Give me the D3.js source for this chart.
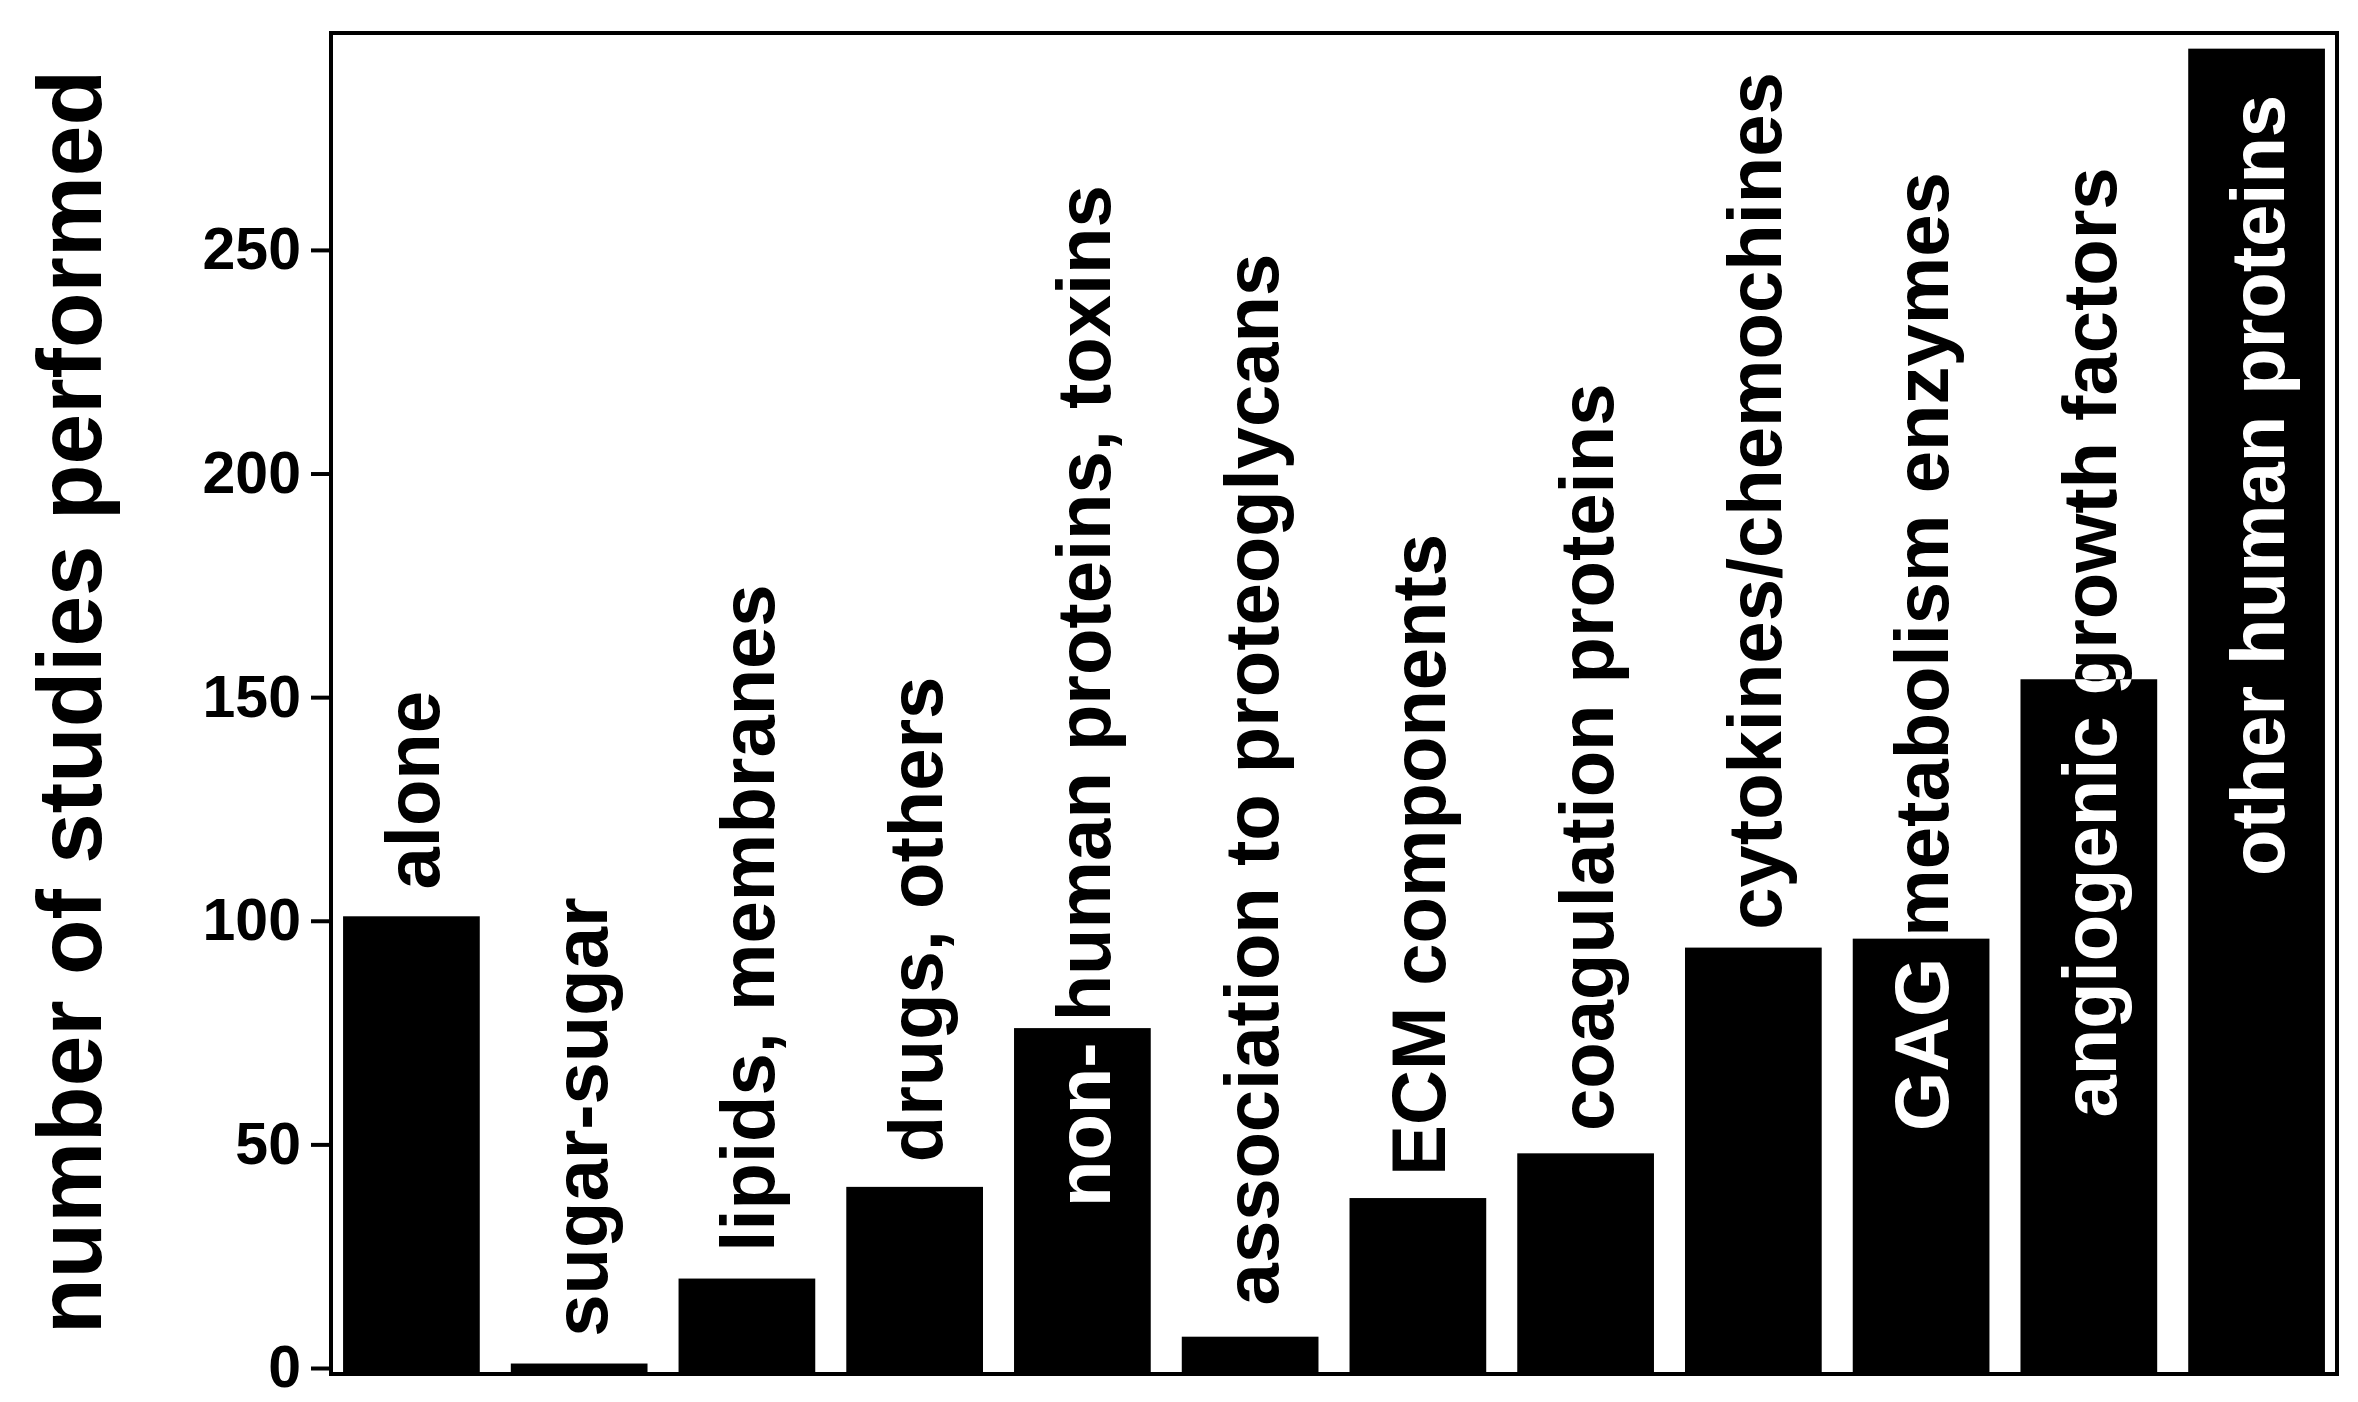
<!DOCTYPE html>
<html><head><meta charset="utf-8">
<script src="https://cdn.jsdelivr.net/npm/d3@7"></script>
<style>body{margin:0;background:#fff}</style>
</head><body>
<svg id="chart" width="2358" height="1402"></svg>
<script>
// categories and values
var categories = ["alone", "sugar-sugar", "lipids, membranes", "drugs, others",
  "non- human proteins, toxins", "association to proteoglycans", "ECM components",
  "coagulation proteins", "cytokines/chemochines", "GAG metabolism enzymes",
  "angiogenic growth factors", "other human proteins"];
var values = [101, 1, 20, 40.5, 76, 7, 38, 48, 94, 96, 154, 295];
// where each label begins, in value units
var labelStart = [107, 7, 26, 46, 36, 14, 43, 53, 98, 53, 56, 110];
var tickValues = [0, 50, 100, 150, 200, 250];

var svg = d3.select("#chart");
var frameL = 331, frameR = 2337, frameT = 33, frameB = 1374;
var font = "'Liberation Sans', Arial, sans-serif";

var x = d3.scaleBand().domain(categories).range([frameL + 2, frameR - 2]).paddingInner(0.185).paddingOuter(0.06);
var y = d3.scaleLinear().domain([0, 298.5]).range([1368, frameT]);

// bars
svg.selectAll("rect.bar").data(categories).enter().append("rect")
  .attr("class", "bar")
  .attr("x", d => x(d)).attr("width", x.bandwidth())
  .attr("y", (d, i) => y(values[i])).attr("height", (d, i) => frameB - y(values[i]))
  .attr("fill", "#000");

// clip path of the bars for white text
var clip = svg.append("clipPath").attr("id", "barclip");
clip.selectAll("rect").data(categories).enter().append("rect")
  .attr("x", d => x(d)).attr("width", x.bandwidth())
  .attr("y", (d, i) => y(values[i])).attr("height", (d, i) => frameB - y(values[i]));

function labels(g, color) {
  g.selectAll("text").data(categories).enter().append("text")
    .attr("transform", (d, i) => "translate(" + (x(d) + x.bandwidth() / 2) + "," + y(labelStart[i]) + ") rotate(-90)")
    .attr("dy", "0.36em")
    .attr("font-family", font).attr("font-weight", "bold").attr("font-size", 76)
    .attr("fill", color)
    .text(d => d);
}
labels(svg.append("g"), "#000");
labels(svg.append("g").attr("clip-path", "url(#barclip)"), "#fff");

// frame
svg.append("rect").attr("x", frameL).attr("y", frameT).attr("width", frameR - frameL).attr("height", frameB - frameT)
  .attr("fill", "none").attr("stroke", "#000").attr("stroke-width", 4);

// y axis
var axis = svg.append("g").attr("transform", "translate(" + frameL + ",0)")
  .call(d3.axisLeft(y).tickValues(tickValues).tickSize(20).tickPadding(10));
axis.select(".domain").remove();
axis.selectAll("line").attr("stroke-width", 4);
axis.selectAll("text").attr("font-family", font).attr("font-weight", "bold").attr("font-size", 59).attr("fill", "#000");

svg.append("text")
  .attr("transform", "translate(68,702) rotate(-90)")
  .attr("text-anchor", "middle").attr("dy", "0.36em")
  .attr("font-family", font).attr("font-weight", "bold").attr("font-size", 91)
  .text("number of studies performed");
</script>
</body></html>
